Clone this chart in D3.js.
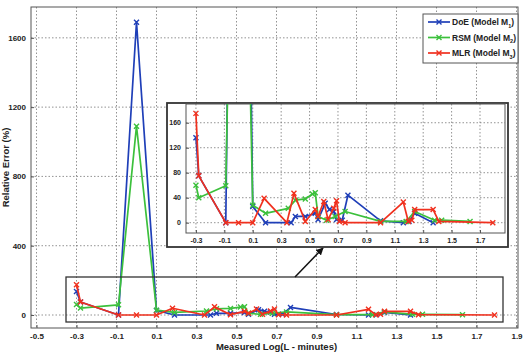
<!DOCTYPE html>
<html>
<head>
<meta charset="utf-8">
<script src="https://cdn.jsdelivr.net/npm/d3@7"></script>
<style>
  body { margin: 0; background: #fff; }
  svg { display: block; font-family: Arial, "Liberation Sans", sans-serif; }
  .tick text { font-weight: bold; fill: #222; }
  .grid line { stroke: #777; stroke-dasharray: 1.5,2; stroke-width: 0.8; }
</style>
</head>
<body>
<div id="vis"></div>
<script>
const WIDTH = 527;
const HEIGHT = 356;

// data
const DOE_X = [-0.30, -0.28, -0.09, 0.00, 0.10, 0.19, 0.37, 0.40, 0.47, 0.54, 0.56, 0.61, 0.64, 0.67, 0.69, 0.73, 0.77, 1.00, 1.16, 1.20, 1.24, 1.37];
const DOE_Y = [136, 75, 0, 1690, 26, 0, 0, 10, 10, 15, 5, 31, 21, 18, 5, 4, 44, 3, 0, 2, 15, 0];
const RSM_X = [-0.30, -0.28, -0.09, 0.00, 0.10, 0.19, 0.35, 0.40, 0.47, 0.52, 0.54, 0.56, 0.62, 0.68, 0.75, 1.00, 1.18, 1.24, 1.38, 1.43, 1.63];
const RSM_Y = [60, 40, 59, 1090, 28, 15, 23, 36, 38, 46, 48, 10, 4, 10, 18, 2, 2, 18, 4, 4, 2];
const MLR_X = [-0.30, -0.28, -0.09, 0.00, 0.10, 0.18, 0.34, 0.39, 0.47, 0.54, 0.56, 0.60, 0.63, 0.67, 0.69, 0.71, 0.75, 1.00, 1.16, 1.195, 1.22, 1.24, 1.37, 1.41, 1.79];
const MLR_Y = [175, 75, 0, 0, 0, 39, 0, 47, 2, 21, 10, 34, 5, 23, 35, 2, 0, 0, 33, 2, 4, 21, 21, 2, 0];

const SERIES_NAMES = ["DoE (Model M", "RSM (Model M", "MLR (Model M"];
const SERIES_SUBS = ["1", "2", "3"];
const COLORS = ["#1f3fb8", "#3cc03c", "#f0301e"];

const X_TICKS = [-0.5, -0.3, -0.1, 0.1, 0.3, 0.5, 0.7, 0.9, 1.1, 1.3, 1.5, 1.7, 1.9];
const Y_TICKS = [0, 400, 800, 1200, 1600];
const INSET_X_TICKS = [-0.3, -0.1, 0.1, 0.3, 0.5, 0.7, 0.9, 1.1, 1.3, 1.5, 1.7];
const INSET_Y_TICKS = [0, 40, 80, 120, 160];

const SERIES = [
  {x: DOE_X, y: DOE_Y},
  {x: RSM_X, y: RSM_Y},
  {x: MLR_X, y: MLR_Y}
].map((s, i) => ({
  name: SERIES_NAMES[i], sub: SERIES_SUBS[i], color: COLORS[i],
  pts: s.x.map((v, j) => [v, s.y[j]])
}));

const MAIN = {left: 31, right: 518, top: 7, bottom: 328};
const INSET = {left: 186, right: 505, top: 104, bottom: 233};

const X_SCALE = d3.scaleLinear().domain([-0.5275, 1.9075]).range([MAIN.left, MAIN.right]);
const Y_SCALE = d3.scaleLinear().domain([-75, 1778]).range([MAIN.bottom, MAIN.top]);
const IX_SCALE = d3.scaleLinear().domain([-0.370, 1.876]).range([INSET.left, INSET.right]);
const IY_SCALE = d3.scaleLinear().domain([-16.5, 190]).range([INSET.bottom, INSET.top]);

const FRAME = d3.select("#vis")
  .append("svg")
    .attr("width", WIDTH)
    .attr("height", HEIGHT);

const fmt = (d) => d.toFixed(1);

// draws grid, axes, lines and markers for one set of scales
function drawPlot(g, xs, ys, box, xt, yt, fs, id) {
  g.append("rect")
    .attr("x", box.left).attr("y", box.top)
    .attr("width", box.right - box.left).attr("height", box.bottom - box.top)
    .attr("fill", "#fff");

  // grid
  g.append("g").attr("class", "grid")
    .selectAll("line.v").data(xt).enter().append("line")
      .attr("x1", (d) => xs(d)).attr("x2", (d) => xs(d))
      .attr("y1", box.top).attr("y2", box.bottom);
  g.append("g").attr("class", "grid")
    .selectAll("line.h").data(yt).enter().append("line")
      .attr("x1", box.left).attr("x2", box.right)
      .attr("y1", (d) => ys(d)).attr("y2", (d) => ys(d));

  // axes
  const xa = g.append("g")
    .attr("transform", "translate(0," + box.bottom + ")")
    .call(d3.axisBottom(xs).tickValues(xt).tickFormat(fmt).tickSize(-3).tickPadding(5));
  const ya = g.append("g")
    .attr("transform", "translate(" + box.left + ",0)")
    .call(d3.axisLeft(ys).tickValues(yt).tickFormat((d) => d).tickSize(-3).tickPadding(5));
  [xa, ya].forEach((a) => {
    a.select(".domain").remove();
    a.selectAll(".tick line").attr("stroke", "#555");
    a.selectAll(".tick text").attr("font-size", fs);
  });

  g.append("rect")
    .attr("x", box.left).attr("y", box.top)
    .attr("width", box.right - box.left).attr("height", box.bottom - box.top)
    .attr("fill", "none").attr("stroke", "#555").attr("stroke-width", 1);

  // clip
  g.append("clipPath").attr("id", id)
    .append("rect")
      .attr("x", box.left).attr("y", box.top)
      .attr("width", box.right - box.left).attr("height", box.bottom - box.top);

  const line = d3.line().x((d) => xs(d[0])).y((d) => ys(d[1]));
  const data = g.append("g").attr("clip-path", "url(#" + id + ")");

  SERIES.forEach((s) => {
    data.append("path")
      .datum(s.pts)
      .attr("d", line)
      .attr("fill", "none")
      .attr("stroke", s.color)
      .attr("stroke-width", 1.7)
      .attr("stroke-linejoin", "round");
    data.selectAll(null)
      .data(s.pts)
      .enter()
      .append("path")
        .attr("transform", (d) => "translate(" + xs(d[0]) + "," + ys(d[1]) + ")")
        .attr("d", "M-2.5,-2.5L2.5,2.5M-2.5,2.5L2.5,-2.5")
        .attr("stroke", s.color)
        .attr("stroke-width", 1.4);
  });
}

// main chart
const MAIN_G = FRAME.append("g");
drawPlot(MAIN_G, X_SCALE, Y_SCALE, MAIN, X_TICKS, Y_TICKS, 8, "clipMain");

// axis titles
FRAME.append("text")
  .attr("x", (MAIN.left + MAIN.right) / 2 + 2)
  .attr("y", 350)
  .attr("text-anchor", "middle")
  .attr("font-size", 9.5)
  .attr("font-weight", "bold")
  .attr("fill", "#222")
  .text("Measured Log(L - minutes)");

FRAME.append("text")
  .attr("transform", "translate(9," + ((MAIN.top + MAIN.bottom) / 2) + ") rotate(-90)")
  .attr("text-anchor", "middle")
  .attr("font-size", 9.5)
  .attr("font-weight", "bold")
  .attr("fill", "#222")
  .text("Relative Error (%)");

// highlight box around the low values
FRAME.append("rect")
  .attr("x", 66).attr("y", 277)
  .attr("width", 437).attr("height", 45)
  .attr("fill", "none")
  .attr("stroke", "#333")
  .attr("stroke-width", 1.3);

// arrow to the inset
FRAME.append("defs").append("marker")
  .attr("id", "arrow")
  .attr("viewBox", "0 0 10 10")
  .attr("refX", 9).attr("refY", 5)
  .attr("markerWidth", 5).attr("markerHeight", 5)
  .attr("orient", "auto")
  .append("path")
    .attr("d", "M0,0L10,5L0,10z")
    .attr("fill", "#111");

FRAME.append("line")
  .attr("x1", 295).attr("y1", 277)
  .attr("x2", 323).attr("y2", 248)
  .attr("stroke", "#111")
  .attr("stroke-width", 1.5)
  .attr("marker-end", "url(#arrow)");

// inset
FRAME.append("rect")
  .attr("x", 167).attr("y", 103)
  .attr("width", 341).attr("height", 144)
  .attr("fill", "#fff")
  .attr("stroke", "#333")
  .attr("stroke-width", 1.8);

const INSET_G = FRAME.append("g");
drawPlot(INSET_G, IX_SCALE, IY_SCALE, INSET, INSET_X_TICKS, INSET_Y_TICKS, 7, "clipInset");

// legend
const LEG = FRAME.append("g").attr("transform", "translate(423,14)");
LEG.append("rect")
  .attr("width", 95).attr("height", 49)
  .attr("fill", "#fff")
  .attr("stroke", "#555")
  .attr("stroke-width", 1);

SERIES.forEach((s, i) => {
  const row = LEG.append("g").attr("transform", "translate(0," + (8 + i * 15.5) + ")");
  row.append("line")
    .attr("x1", 5).attr("x2", 27)
    .attr("stroke", s.color).attr("stroke-width", 1.7);
  row.append("path")
    .attr("transform", "translate(16,0)")
    .attr("d", "M-2.5,-2.5L2.5,2.5M-2.5,2.5L2.5,-2.5")
    .attr("stroke", s.color).attr("stroke-width", 1.4);
  const t = row.append("text")
    .attr("x", 29).attr("y", 3)
    .attr("font-size", 8.5)
    .attr("font-weight", "bold")
    .attr("fill", "#222");
  t.append("tspan").text(s.name);
  t.append("tspan").attr("font-size", 5.5).attr("dy", 2.5).text(s.sub);
  t.append("tspan").attr("dy", -2.5).text(")");
});
</script>
</body>
</html>
